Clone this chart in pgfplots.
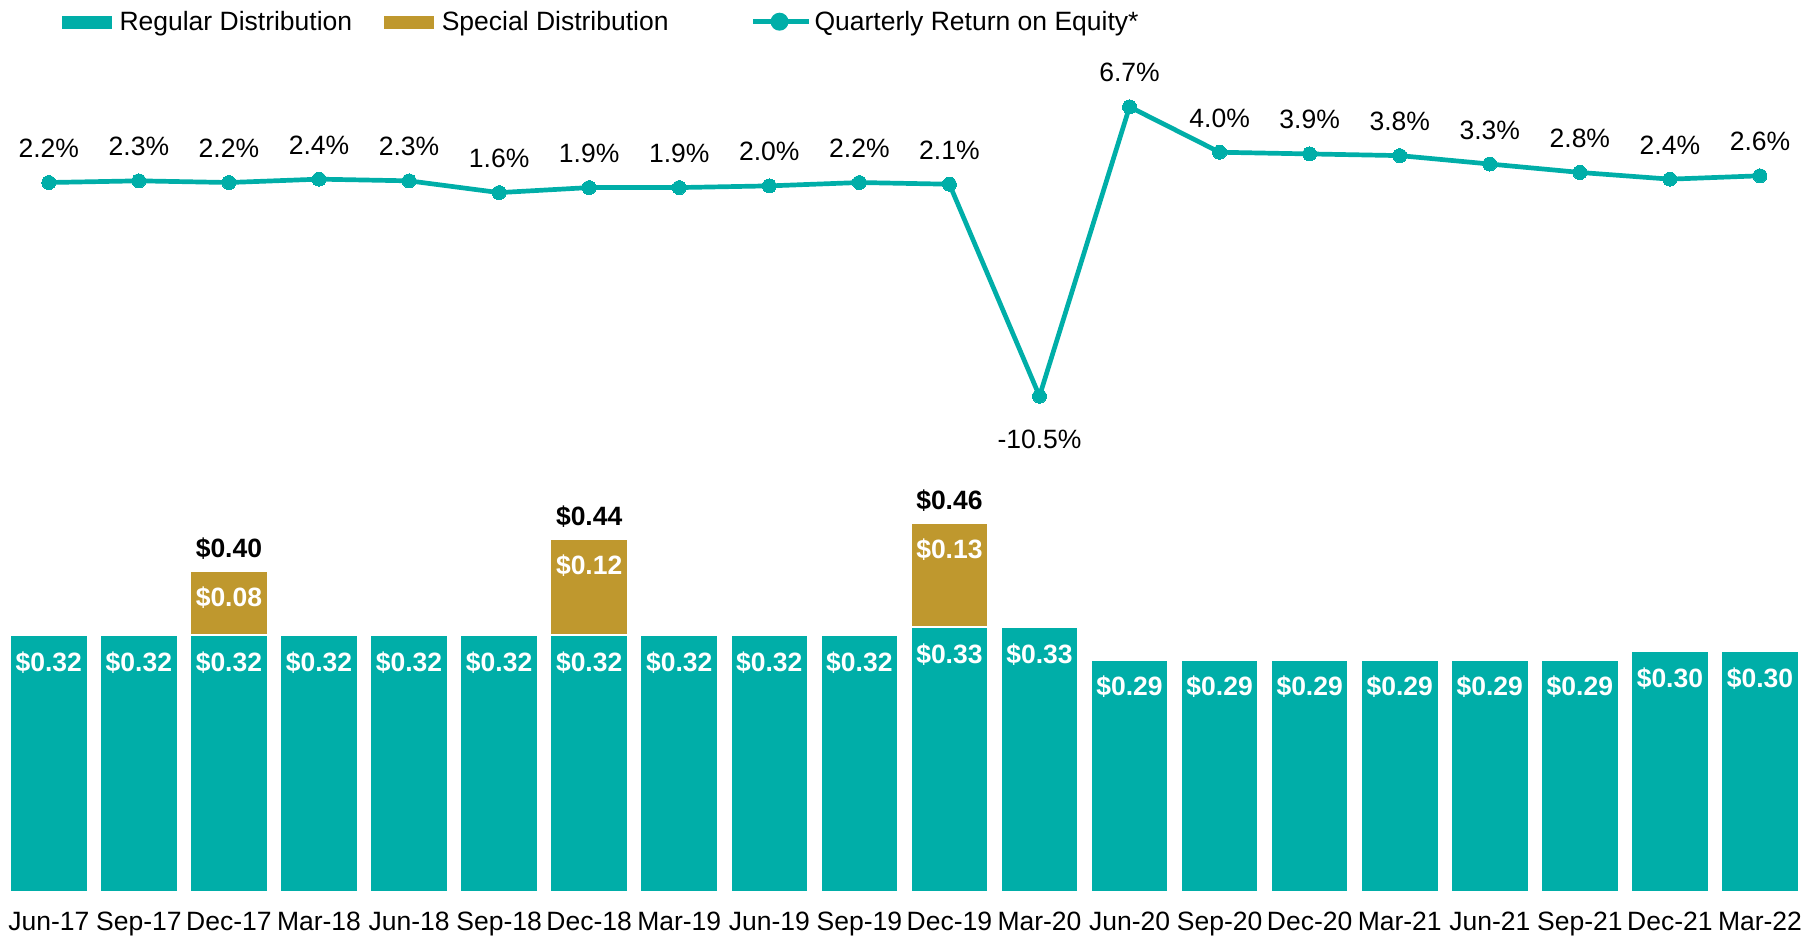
\documentclass[border=0pt]{standalone}
\usepackage{fontspec}
\setmainfont{Liberation Sans}
\usepackage{pgfplots}
\usepackage{pgfplotstable}
\pgfplotsset{compat=1.18}
\definecolor{tealc}{HTML}{00AEA8}
\definecolor{goldc}{HTML}{BF982E}
\newcommand\cf{\fontsize{13.25}{16}\selectfont}

\pgfplotstableread{
x reg spec tot roe
0 0.32 0 0 2.2
1 0.32 0 0 2.3
2 0.32 0.08 0.40 2.2
3 0.32 0 0 2.4
4 0.32 0 0 2.3
5 0.32 0 0 1.6
6 0.32 0.12 0.44 1.9
7 0.32 0 0 1.9
8 0.32 0 0 2.0
9 0.32 0 0 2.2
10 0.33 0.13 0.46 2.1
11 0.33 0 0 -10.5
12 0.29 0 0 6.7
13 0.29 0 0 4.0
14 0.29 0 0 3.9
15 0.29 0 0 3.8
16 0.29 0 0 3.3
17 0.29 0 0 2.8
18 0.30 0 0 2.4
19 0.30 0 0 2.6
}\data

\pgfplotsset{base/.style={width=907pt, height=446pt, scale only axis,
  xmin=-0.542, xmax=19.60, enlarge x limits=false, enlarge y limits=false,
  axis line style={draw=none}, major tick length=0pt, clip=false,
  /pgf/number format/assume math mode=true}}

\begin{document}
\begin{tikzpicture}
\begin{axis}[base, ybar, bar width=39pt, bar shift=0pt, ymin=0, ymax=1.1108,
  xtick={0,...,19}, ytick=\empty,
  xticklabels={Jun-17,Sep-17,Dec-17,Mar-18,Jun-18,Sep-18,Dec-18,Mar-19,Jun-19,Sep-19,Dec-19,Mar-20,Jun-20,Sep-20,Dec-20,Mar-21,Jun-21,Sep-21,Dec-21,Mar-22},
  xticklabel style={font=\cf, anchor=base, inner sep=0pt, yshift=-19pt},
  point meta=explicit,
  nodes near coords={\pgfmathfloatifflags{\pgfplotspointmeta}{0}{}{\$\pgfmathprintnumber[fixed,fixed zerofill,precision=2]{\pgfplotspointmeta}}},
]
% special distribution, stacked on top of the regular one
\addplot[fill=goldc, draw=white, line width=1.2pt, bar shift=0pt,
  every node near coord/.append style={font=\cf\bfseries, text=white, anchor=base, inner sep=0pt, yshift=-18pt}]
  table[x=x, y expr=\thisrow{reg}+\thisrow{spec}, meta=spec]{\data};
% regular distribution
\addplot[fill=tealc, draw=white, line width=1.2pt, bar shift=0pt,
  every node near coord/.append style={font=\cf\bfseries, text=white, anchor=base, inner sep=0pt, yshift=-18pt}]
  table[x=x, y=reg, meta=reg]{\data};
% totals
\addplot[fill=none, draw=none, bar shift=0pt,
  every node near coord/.append style={font=\cf\bfseries, text=black, anchor=base, inner sep=0pt, yshift=6.5pt}]
  table[x=x, y=tot, meta=tot]{\data};
\end{axis}

\begin{axis}[base, ymin=-39.99, ymax=13.04, xtick=\empty, ytick=\empty,
  legend columns=3,
  legend style={at={(axis description cs:0.03418,0.98812)}, anchor=north west,
    draw=none, fill=none, inner sep=0pt, font=\cf, /tikz/column sep=0pt,
    cells={anchor=base west}, nodes={inner sep=0pt}},
]
\addlegendimage{legend image code/.code={\fill[tealc] (0pt,0.85pt) rectangle (24.5pt,7.15pt); \path (28.15pt,0pt);}}
\addlegendentry{\makebox[132.35pt][l]{Regular Distribution}}
\addlegendimage{legend image code/.code={\fill[goldc] (0pt,0.85pt) rectangle (24.5pt,7.15pt); \path (28.4pt,0pt);}}
\addlegendentry{\makebox[154.5pt][l]{Special Distribution}}
\addplot[tealc, line width=2.35pt, mark=*, mark size=3.5pt, mark options={fill=tealc, draw=tealc, line width=0pt},
  legend image code/.code={\draw[tealc, line width=2.35pt] (0pt,4.35pt) -- (27.85pt,4.35pt); \fill[tealc] (13.2pt,4.35pt) circle (3.3pt); \path (29.5pt,0pt);},
  visualization depends on={y \as \roe},
  point meta=y,
  nodes near coords={\pgfmathprintnumber[fixed,fixed zerofill,precision=1]{\pgfplotspointmeta}\%},
  every node near coord/.append style={font=\cf, text=black, anchor=base, inner sep=0pt, yshift={ifthenelse(\roe<0,-26,12.5)*1pt}}]
  table[x=x, y=roe]{\data};
\addlegendentry{Quarterly Return on Equity*}
\end{axis}
\end{tikzpicture}
\end{document}
